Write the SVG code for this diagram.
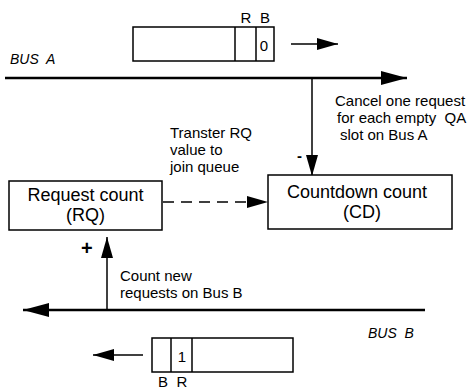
<svg xmlns="http://www.w3.org/2000/svg" width="476" height="391" viewBox="0 0 476 391">
<style>
text{font-family:"Liberation Sans",Arial,sans-serif;fill:#000}
.lbl{font-size:15px}
.box{font-size:18px}
.bus{font-size:14px;font-style:italic}
.cell{font-size:15px}
.sign{font-weight:bold}
.rect{fill:#fff;stroke:#000;stroke-width:1.5}
.ln{stroke:#000;stroke-width:1.5;fill:none}
.busl{stroke:#000;stroke-width:2.5;fill:none}
</style>
<defs>
<marker id="big" markerUnits="userSpaceOnUse" markerWidth="26" markerHeight="14" refX="26" refY="7" orient="auto" viewBox="0 0 26 14">
<path d="M0,0 L26,7 L0,14 z" fill="#000"/>
</marker>
<marker id="small" markerUnits="userSpaceOnUse" markerWidth="21" markerHeight="12" refX="21" refY="6" orient="auto" viewBox="0 0 21 12">
<path d="M0,0 L21,6 L0,12 z" fill="#000"/>
</marker>
</defs>
<g id="connectors">
<line id="busA" class="busl" x1="5" y1="78" x2="407" y2="78" marker-end="url(#big)"/>
<line id="busB" class="busl" x1="425" y1="310" x2="23" y2="310" marker-end="url(#big)"/>
<line id="cancel" class="ln" x1="312" y1="78" x2="312" y2="176" marker-end="url(#small)"/>
<line id="count" class="ln" x1="107" y1="310" x2="107" y2="237" marker-end="url(#small)"/>
<line id="transfer" class="ln" x1="163" y1="202" x2="268" y2="202" stroke-dasharray="11,7" marker-end="url(#small)"/>
<line id="dirA" class="ln" x1="291" y1="44" x2="338" y2="44" marker-end="url(#small)"/>
<line id="dirB" class="ln" x1="143" y1="355" x2="93" y2="355" marker-end="url(#small)"/>
</g>
<g id="busA-label"><text class="bus" x="10" y="64" xml:space="preserve">BUS  A</text></g>
<g id="busB-label"><text class="bus" x="368" y="338" xml:space="preserve">BUS  B</text></g>
<g id="slotA">
<rect class="rect" x="133" y="27" width="141" height="34"/>
<line class="ln" x1="235" y1="27" x2="235" y2="61"/>
<line class="ln" x1="256" y1="27" x2="256" y2="61"/>
<text class="cell" x="246" y="23" text-anchor="middle">R</text>
<text class="cell" x="265" y="23" text-anchor="middle">B</text>
<text class="cell" x="264" y="51" text-anchor="middle">0</text>
</g>
<g id="slotB">
<rect class="rect" x="152" y="338" width="141" height="34"/>
<line class="ln" x1="171" y1="338" x2="171" y2="372"/>
<line class="ln" x1="192" y1="338" x2="192" y2="372"/>
<text class="cell" x="182" y="362" text-anchor="middle">1</text>
<text class="cell" x="163" y="387" text-anchor="middle">B</text>
<text class="cell" x="182" y="387" text-anchor="middle">R</text>
</g>
<g id="rq">
<rect class="rect" x="9" y="181" width="153" height="49"/>
<text class="box" x="85.5" y="201" text-anchor="middle">Request count</text>
<text class="box" x="85.5" y="221" text-anchor="middle">(RQ)</text>
</g>
<g id="cd">
<rect class="rect" x="268" y="175" width="184" height="54"/>
<text class="box" x="357" y="198" text-anchor="middle">Countdown count</text>
<text class="box" x="362" y="218" text-anchor="middle">(CD)</text>
</g>
<g id="cancel-label">
<text class="lbl" x="335" y="106">Cancel one request</text>
<text class="lbl" x="337" y="123" xml:space="preserve">for each empty  QA</text>
<text class="lbl" x="340" y="140">slot on Bus A</text>
<text class="lbl sign" x="297" y="161">-</text>
</g>
<g id="transfer-label">
<text class="lbl" x="170" y="138">Transter RQ</text>
<text class="lbl" x="170" y="155">value to</text>
<text class="lbl" x="170" y="172">join queue</text>
</g>
<g id="count-label">
<text class="lbl" x="120" y="281">Count new</text>
<text class="lbl" x="120" y="298">requests on Bus B</text>
<text class="sign" x="81" y="255" font-size="20">+</text>
</g>
</svg>
